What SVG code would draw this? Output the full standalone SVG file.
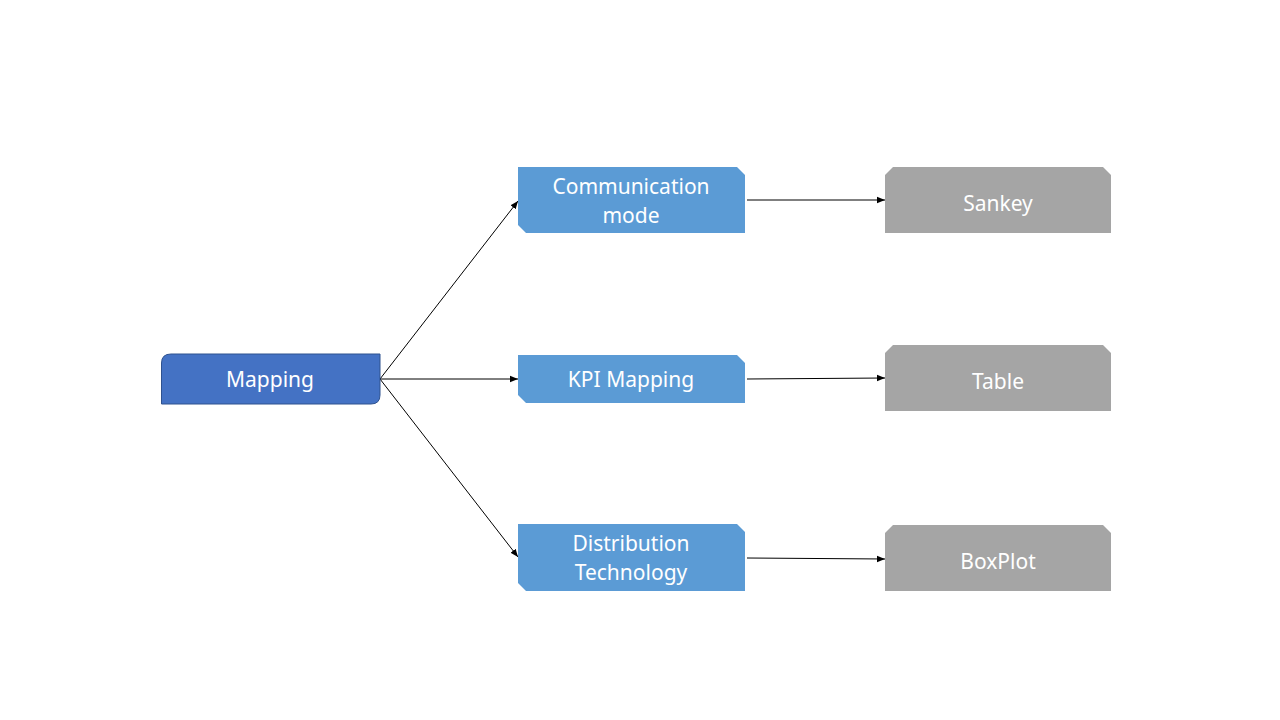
<svg xmlns="http://www.w3.org/2000/svg" width="1280" height="720" viewBox="0 0 1280 720">
<style>
.t{font-family:"Noto Sans","Open Sans","DejaVu Sans",sans-serif;font-size:21px;fill:#FFFFFF;text-anchor:middle}
.blue{fill:#5B9BD5}
.gray{fill:#A5A5A5}
.c{stroke:#000;stroke-width:1;fill:none;marker-end:url(#ah)}
</style>
<defs>
<marker id="ah" viewBox="0 0 10 10" refX="10" refY="5" markerWidth="8" markerHeight="8" markerUnits="userSpaceOnUse" orient="auto">
<path d="M0,1 L10,5 L0,9 Z" fill="#000"/>
</marker>
</defs>
<rect width="1280" height="720" fill="#FFFFFF"/>
<g id="connectors">
<line class="c" x1="380" y1="379" x2="518" y2="201"/>
<line class="c" x1="380" y1="379" x2="518" y2="379"/>
<line class="c" x1="380" y1="379" x2="518" y2="557"/>
<line class="c" x1="747" y1="200" x2="885" y2="200"/>
<line class="c" x1="747" y1="379" x2="885" y2="378"/>
<line class="c" x1="747" y1="558" x2="885" y2="559"/>
</g>
<g id="mapping">
<path d="M171,354 L380,354 L380,395 Q380,404 371,404 L161.5,404 L161.5,363 Q161.5,354 171,354 Z" fill="#4472C4" stroke="#2F528F" stroke-width="1"/>
<text class="t" x="270" y="387">Mapping</text>
</g>
<g id="communication">
<path class="blue" d="M518,167 L737,167 L745,175 L745,233 L526,233 L518,225 Z"/>
<text class="t" x="631" y="194">Communication</text>
<text class="t" x="631" y="223">mode</text>
</g>
<g id="kpi">
<path class="blue" d="M518,355 L737,355 L745,363 L745,403 L526,403 L518,395 Z"/>
<text class="t" x="631" y="387">KPI Mapping</text>
</g>
<g id="distribution">
<path class="blue" d="M518,524 L737,524 L745,532 L745,591 L526,591 L518,583 Z"/>
<text class="t" x="631" y="551">Distribution</text>
<text class="t" x="631" y="580">Technology</text>
</g>
<g id="sankey">
<path class="gray" d="M893,167 L1103,167 L1111,175 L1111,233 L885,233 L885,175 Z"/>
<text class="t" x="998" y="211">Sankey</text>
</g>
<g id="table">
<path class="gray" d="M893,345 L1103,345 L1111,353 L1111,411 L885,411 L885,353 Z"/>
<text class="t" x="998" y="389">Table</text>
</g>
<g id="boxplot">
<path class="gray" d="M893,525 L1103,525 L1111,533 L1111,591 L885,591 L885,533 Z"/>
<text class="t" x="998" y="569">BoxPlot</text>
</g>
</svg>
